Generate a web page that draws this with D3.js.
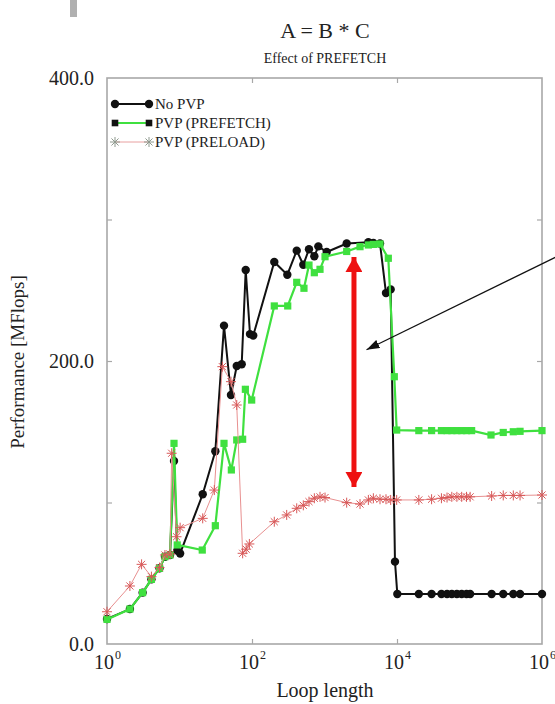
<!DOCTYPE html>
<html>
<head>
<meta charset="utf-8">
<script src="https://cdn.jsdelivr.net/npm/d3@7/dist/d3.min.js"></script>
<style>
  html, body { margin: 0; padding: 0; background: #fff; }
  svg { display: block; }
  text { font-family: "Liberation Serif", "Times New Roman", serif; fill: #222; }
</style>
</head>
<body>
<svg id="chart" width="555" height="704"></svg>
<script>
// Loop lengths and measured performance (MFlops) for each run
const loopNoPVP = [1, 2.07, 3.1, 4.1, 5.3, 6.3, 7.4, 8.4, 9.3, 10.2, 20.9, 31.2, 41.1, 51.3, 61.6, 72.1, 81.9, 93.8, 104,
  203, 307, 414, 510, 611, 724, 822, 1072, 2023, 4027, 4720, 5830, 7050, 8180, 9380, 10100,
  20000, 30000, 41000, 49000, 57000, 67000, 78000, 91000, 102000, 202000, 292000, 402000, 498000, 1000000];
const perfNoPVP = [17.7, 24.7, 36.3, 45.7, 53.5, 61.7, 62.9, 129.3, 66, 64, 105.8, 136.2, 225, 176, 196.5, 197.7, 264.3, 219, 218,
  270, 261, 278, 268, 279, 274, 281, 277, 283, 284, 283.5, 283, 248, 250.6, 58.2, 35.3,
  35.3, 35.3, 35.3, 35.3, 35.3, 35.3, 35.3, 35.3, 35.3, 35.3, 35.3, 35.3, 35.3, 35.3];

const loopPrefetch = [1, 2.07, 3.1, 4.1, 5.3, 6.3, 7.4, 8.4, 9.3, 20.6, 31.2, 41.1, 51.9, 61.6, 74.3, 81, 99,
  203, 311, 414, 521, 611, 724, 867, 1017, 2023, 3090, 4027, 4720, 5830, 7590, 9180, 9900,
  20000, 30000, 41000, 49000, 57000, 67000, 78000, 91000, 107000, 198000, 292000, 402000, 498000, 1000000];
const perfPrefetch = [17.4, 24.7, 36.3, 45.7, 53.5, 61.7, 62.9, 141.8, 70, 66.4, 83.6, 141.8, 123, 144.2, 144.7, 180, 172.4,
  238.9, 238.9, 255.6, 251.4, 267.8, 262.4, 264.8, 273.7, 277.4, 280.8, 282, 282.4, 282.7, 272.6, 188.9, 151.2,
  150.8, 150.8, 150.8, 150.8, 150.8, 150.8, 150.8, 150.8, 150.8, 147.7, 149.5, 150, 150.3, 150.8];

const loopPreload = [1, 2.07, 3.0, 4.1, 5.3, 6.3, 7.4, 7.8, 9.1, 10.2, 20.9, 30.2, 39, 51.3, 61.6, 74.3, 83, 92,
  203, 301, 414, 510, 611, 724, 867, 1017, 2023, 3090, 4027, 4720, 5830, 7050, 8180, 9900,
  20000, 30000, 41000, 49000, 57000, 67000, 78000, 91000, 102000, 202000, 292000, 402000, 498000, 1000000];
const perfPreload = [22.8, 41, 56.3, 47.6, 54, 62.9, 63.6, 134.8, 75.8, 82.2, 88.8, 108.8, 196, 185.4, 168.9, 64.1, 67, 70.7,
  86.4, 91.2, 95.9, 98, 100.6, 103, 104, 103.5, 99.9, 98.9, 101.8, 103, 102.3, 102.3, 101.8, 101.8,
  101.8, 102.3, 103, 103.5, 104, 104, 104, 104, 104, 104.6, 105, 105, 105, 105.3];

const xTickValues = [1, 100, 10000, 1000000];
const xTickExponents = ["0", "2", "4", "6"];
const yTickValues = [100, 200, 300];
const yLabelValues = [0, 200, 400];
const seriesNames = ["No PVP", "PVP (PREFETCH)", "PVP (PRELOAD)"];

const svg = d3.select("#chart");
const x = d3.scaleLog().domain([1, 1e6]).range([107, 542]);
const y = d3.scaleLinear().domain([0, 400]).range([644, 78]);
const frameColor = "#a8a8a8";

// small grey block in the top-left corner of the page
svg.append("rect").attr("x", 70).attr("y", 0).attr("width", 7).attr("height", 17).attr("fill", "#b0b0b0");

// titles
svg.append("text").attr("x", 325).attr("y", 38).attr("text-anchor", "middle")
  .style("font-size", "22px").text("A = B * C");
svg.append("text").attr("x", 325).attr("y", 63).attr("text-anchor", "middle")
  .style("font-size", "14px").text("Effect of PREFETCH");

// plot frame
svg.append("rect").attr("x", x(1)).attr("y", y(400))
  .attr("width", x(1e6) - x(1)).attr("height", y(0) - y(400))
  .attr("fill", "none").attr("stroke", frameColor).attr("stroke-width", 1.6);

// inward ticks on all four sides
const inner = [xTickValues[1], xTickValues[2]];
const tickStyle = g => { g.select(".domain").remove(); g.selectAll("line").attr("stroke", frameColor).attr("stroke-width", 1.2); g.selectAll("text").remove(); };
svg.append("g").attr("transform", `translate(0,${y(0)})`)
  .call(d3.axisBottom(x).tickValues(inner).tickSize(-5)).call(tickStyle);
svg.append("g").attr("transform", `translate(0,${y(400)})`)
  .call(d3.axisTop(x).tickValues(inner).tickSize(-5)).call(tickStyle);
svg.append("g").attr("transform", `translate(${x(1)},0)`)
  .call(d3.axisLeft(y).tickValues(yTickValues).tickSize(-5)).call(tickStyle);
svg.append("g").attr("transform", `translate(${x(1e6)},0)`)
  .call(d3.axisRight(y).tickValues(yTickValues).tickSize(-5)).call(tickStyle);

// y tick labels
svg.selectAll(".ylab").data(yLabelValues).enter().append("text")
  .attr("x", 94).attr("y", d => y(d) + 7).attr("text-anchor", "end")
  .style("font-size", "20px").text(d => d.toFixed(1));

// x tick labels: powers of ten
const xl = svg.selectAll(".xlab").data(xTickValues).enter().append("g");
xl.append("text").attr("x", d => x(d) - 3).attr("y", 669).attr("text-anchor", "middle")
  .style("font-size", "20px").text("10");
xl.append("text").attr("x", d => x(d) + 8).attr("y", 659).attr("text-anchor", "start")
  .style("font-size", "12px").text((d, i) => xTickExponents[i]);

// axis titles
svg.append("text").attr("x", 325).attr("y", 697).attr("text-anchor", "middle")
  .style("font-size", "20px").text("Loop length");
svg.append("text").attr("transform", "translate(24,362) rotate(-90)").attr("text-anchor", "middle")
  .style("font-size", "19px").text("Performance [MFlops]");

const line = d3.line().x(d => x(d[0])).y(d => y(d[1]));
const zip = (a, b) => a.map((v, i) => [v, b[i]]);
const dNo = zip(loopNoPVP, perfNoPVP);
const dPf = zip(loopPrefetch, perfPrefetch);
const dPl = zip(loopPreload, perfPreload);

const green = "#3fe03f";
const red = "#d85858";
const starPath = r => {
  const s = r * 0.7071;
  return `M${-r},0L${r},0M0,${-r}L0,${r}M${-s},${-s}L${s},${s}M${-s},${s}L${s},${-s}`;
};

// No PVP
svg.append("path").datum(dNo).attr("d", line).attr("fill", "none")
  .attr("stroke", "#111").attr("stroke-width", 2);
svg.selectAll(".mNo").data(dNo).enter().append("circle")
  .attr("cx", d => x(d[0])).attr("cy", d => y(d[1])).attr("r", 4.2).attr("fill", "#111");

// PVP (PREFETCH)
svg.append("path").datum(dPf).attr("d", line).attr("fill", "none")
  .attr("stroke", green).attr("stroke-width", 2.2);
svg.selectAll(".mPf").data(dPf).enter().append("rect")
  .attr("x", d => x(d[0]) - 3.6).attr("y", d => y(d[1]) - 3.6)
  .attr("width", 7.2).attr("height", 7.2).attr("fill", green);

// PVP (PRELOAD)
svg.append("path").datum(dPl).attr("d", line).attr("fill", "none")
  .attr("stroke", "#e89090").attr("stroke-width", 1);
svg.selectAll(".mPl").data(dPl).enter().append("path")
  .attr("transform", d => `translate(${x(d[0])},${y(d[1])})`)
  .attr("d", starPath(5)).attr("stroke", red).attr("stroke-width", 1).attr("fill", "none");

// legend
const legY = [104, 123, 142];
const lx0 = 115, lx1 = 149;
const lg = svg.append("g");
lg.append("line").attr("x1", lx0).attr("x2", lx1).attr("y1", legY[0]).attr("y2", legY[0]).attr("stroke", "#111").attr("stroke-width", 2);
[lx0, lx1].forEach(px => lg.append("circle").attr("cx", px).attr("cy", legY[0]).attr("r", 4.2).attr("fill", "#111"));
lg.append("line").attr("x1", lx0).attr("x2", lx1).attr("y1", legY[1]).attr("y2", legY[1]).attr("stroke", green).attr("stroke-width", 2.2);
[lx0, lx1].forEach(px => lg.append("rect").attr("x", px - 3.3).attr("y", legY[1] - 3.3).attr("width", 6.6).attr("height", 6.6).attr("fill", "#111"));
lg.append("line").attr("x1", lx0).attr("x2", lx1).attr("y1", legY[2]).attr("y2", legY[2]).attr("stroke", "#e8a0a0").attr("stroke-width", 1);
[lx0, lx1].forEach(px => lg.append("path").attr("transform", `translate(${px},${legY[2]})`).attr("d", starPath(5)).attr("stroke", "#8f9a8f").attr("fill", "none"));
lg.selectAll(".lt").data(seriesNames).enter().append("text")
  .attr("x", 155).attr("y", (d, i) => legY[i] + 5).style("font-size", "15px").text(d => d);

// red double-headed arrow marking the gap between PREFETCH and PRELOAD
const defs = svg.append("defs");
const mk = (id, color, w, h) => defs.append("marker").attr("id", id)
  .attr("viewBox", `0 0 ${h} ${w}`).attr("refX", h).attr("refY", w / 2)
  .attr("markerWidth", h).attr("markerHeight", w).attr("markerUnits", "userSpaceOnUse")
  .attr("orient", "auto-start-reverse")
  .append("path").attr("d", `M0,0L${h},${w / 2}L0,${w}Z`).attr("fill", color);
mk("redHead", "#ee1111", 17, 15);
mk("blackHead", "#111", 9, 13);

const arrowX = 2550;
svg.append("line").attr("x1", x(arrowX)).attr("x2", x(arrowX))
  .attr("y1", y(273.5)).attr("y2", y(111))
  .attr("stroke", "#ee1111").attr("stroke-width", 5)
  .attr("marker-start", "url(#redHead)").attr("marker-end", "url(#redHead)");

// pointer arrow coming in from the right
svg.append("line").attr("x1", 556).attr("y1", 257)
  .attr("x2", x(3800)).attr("y2", y(208))
  .attr("stroke", "#111").attr("stroke-width", 1.2)
  .attr("marker-end", "url(#blackHead)");
</script>
</body>
</html>
